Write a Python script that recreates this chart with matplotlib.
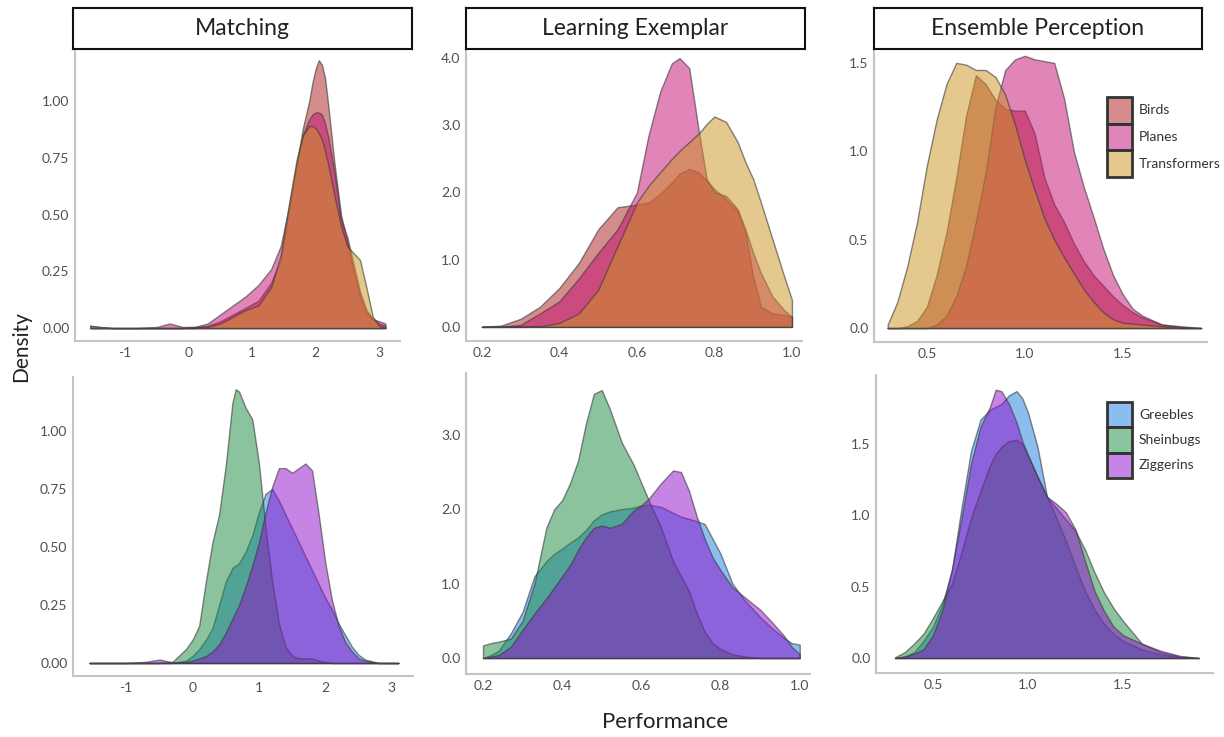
import matplotlib
matplotlib.use("Agg")
import matplotlib.pyplot as plt
from matplotlib.colors import to_rgba
from matplotlib.patches import Rectangle

plt.rcParams['font.family'] = ['Lato', 'DejaVu Sans']

# ---------------- data ----------------
column_titles = ["Matching", "Learning Exemplar", "Ensemble Perception"]
top_labels = ["Birds", "Planes", "Transformers"]
bottom_labels = ["Greebles", "Sheinbugs", "Ziggerins"]
top_colors = ["#ad1b1b", "#c50b71", "#cb931d"]
bottom_colors = ["#197de1", "#198941", "#8f0bcb"]

# Matching, top row
match_top_x = [-1.55, -1.4, -1.2, -0.8, -0.5, -0.3, -0.1, 0.1, 0.3, 0.5, 0.7, 0.9, 1.1, 1.3, 1.45,
               1.6, 1.7, 1.8, 1.9, 1.95, 2.0, 2.05, 2.1, 2.15, 2.2, 2.3, 2.4, 2.5, 2.6, 2.7, 2.8, 2.9, 3.0, 3.1]
match_birds = [0.01, 0.005, 0, 0, 0, 0, 0, 0.005, 0.01, 0.03, 0.06, 0.09, 0.12, 0.2, 0.3,
               0.55, 0.72, 0.88, 1.0, 1.08, 1.14, 1.18, 1.16, 1.1, 0.98, 0.72, 0.5, 0.38, 0.25, 0.14, 0.07, 0.04, 0.02, 0.01]
match_planes = [0, 0, 0, 0, 0.005, 0.02, 0.005, 0.005, 0.02, 0.06, 0.1, 0.14, 0.19, 0.26, 0.36,
                0.56, 0.72, 0.85, 0.92, 0.94, 0.95, 0.95, 0.94, 0.9, 0.84, 0.68, 0.48, 0.4, 0.28, 0.16, 0.08, 0.04, 0.03, 0.02]
match_transformers = [0.01, 0.005, 0, 0, 0, 0, 0, 0, 0.005, 0.02, 0.05, 0.08, 0.1, 0.18, 0.32,
                      0.58, 0.74, 0.85, 0.89, 0.89, 0.88, 0.86, 0.83, 0.78, 0.72, 0.58, 0.45, 0.36, 0.33, 0.3, 0.18, 0.05, 0.01, 0]

# Learning Exemplar, top row
learn_top_x = [0.2, 0.25, 0.3, 0.35, 0.4, 0.45, 0.5, 0.55, 0.6, 0.63, 0.66, 0.69, 0.71, 0.735, 0.76,
               0.78, 0.8, 0.83, 0.86, 0.88, 0.9, 0.92, 0.95, 0.98, 1.0]
learn_birds = [0, 0.02, 0.12, 0.3, 0.58, 0.95, 1.45, 1.78, 1.82, 1.85, 1.98, 2.15, 2.28, 2.35, 2.3,
               2.18, 2.05, 1.9, 1.72, 1.4, 0.75, 0.3, 0.2, 0.18, 0.15]
learn_planes = [0, 0, 0.03, 0.2, 0.38, 0.72, 1.1, 1.45, 2.0, 2.85, 3.5, 3.92, 4.0, 3.85, 2.9,
                2.2, 2.0, 1.95, 1.75, 1.45, 1.1, 0.8, 0.45, 0.25, 0.15]
learn_transformers = [0, 0, 0, 0.01, 0.06, 0.2, 0.55, 1.2, 1.85, 2.1, 2.3, 2.5, 2.62, 2.75, 2.88,
                      3.02, 3.13, 3.05, 2.75, 2.45, 2.2, 1.85, 1.3, 0.75, 0.4]

# Ensemble Perception, top row
ens_top_x = [0.3, 0.35, 0.4, 0.45, 0.5, 0.55, 0.6, 0.65, 0.7, 0.75, 0.8, 0.85, 0.9, 0.95, 1.0,
             1.05, 1.1, 1.15, 1.2, 1.25, 1.3, 1.35, 1.4, 1.45, 1.5, 1.55, 1.6, 1.7, 1.8, 1.9]
ens_birds = [0, 0, 0.01, 0.04, 0.12, 0.3, 0.54, 0.85, 1.2, 1.43, 1.38, 1.29, 1.24, 1.23, 1.23,
             1.1, 0.85, 0.7, 0.6, 0.48, 0.38, 0.3, 0.24, 0.18, 0.13, 0.09, 0.06, 0.02, 0.01, 0]
ens_planes = [0, 0, 0, 0, 0, 0.02, 0.07, 0.18, 0.35, 0.6, 0.88, 1.25, 1.46, 1.52, 1.54,
              1.52, 1.51, 1.5, 1.3, 1.0, 0.8, 0.63, 0.45, 0.3, 0.19, 0.11, 0.07, 0.02, 0.005, 0]
ens_transformers = [0.02, 0.15, 0.35, 0.6, 0.92, 1.18, 1.38, 1.5, 1.49, 1.46, 1.46, 1.42, 1.32, 1.15, 0.95,
                    0.78, 0.62, 0.5, 0.4, 0.31, 0.22, 0.15, 0.09, 0.05, 0.03, 0.025, 0.02, 0.01, 0, 0]

# Matching, bottom row
match_bot_x = [-1.55, -1.0, -0.7, -0.5, -0.3, -0.1, 0.0, 0.1, 0.2, 0.3, 0.4, 0.5, 0.6, 0.65, 0.7, 0.8,
               0.9, 1.0, 1.1, 1.2, 1.3, 1.4, 1.5, 1.6, 1.7, 1.8, 1.9, 2.0, 2.1, 2.2, 2.3, 2.4, 2.5, 2.6, 2.8, 3.1]
match_greebles = [0, 0, 0, 0, 0, 0.01, 0.03, 0.06, 0.1, 0.15, 0.25, 0.35, 0.41, 0.42, 0.43, 0.48,
                  0.55, 0.65, 0.73, 0.75, 0.7, 0.64, 0.58, 0.52, 0.46, 0.4, 0.34, 0.28, 0.23, 0.17, 0.12, 0.07, 0.035, 0.015, 0, 0]
match_sheinbugs = [0, 0, 0, 0, 0.005, 0.06, 0.1, 0.16, 0.35, 0.52, 0.64, 0.85, 1.12, 1.18, 1.17, 1.1,
                   1.05, 0.86, 0.58, 0.35, 0.17, 0.07, 0.03, 0.02, 0.02, 0.02, 0.01, 0.005, 0, 0, 0, 0, 0, 0, 0, 0]
match_ziggerins = [0, 0, 0.005, 0.015, 0.003, 0.005, 0.01, 0.02, 0.03, 0.05, 0.08, 0.13, 0.19, 0.22, 0.25, 0.33,
                   0.42, 0.52, 0.65, 0.76, 0.84, 0.84, 0.82, 0.84, 0.86, 0.83, 0.64, 0.43, 0.27, 0.16, 0.09, 0.05, 0.02, 0.01, 0, 0]

# Learning Exemplar, bottom row
learn_bot_x = [0.2, 0.22, 0.24, 0.27, 0.3, 0.33, 0.36, 0.38, 0.4, 0.42, 0.44, 0.46, 0.48, 0.5, 0.52, 0.55, 0.58,
               0.6, 0.62, 0.65, 0.68, 0.7, 0.72, 0.74, 0.76, 0.78, 0.8, 0.83, 0.86, 0.9, 0.93, 0.96, 0.98, 1.0]
learn_greebles = [0, 0.04, 0.1, 0.33, 0.62, 1.1, 1.3, 1.4, 1.47, 1.55, 1.62, 1.72, 1.85, 1.93, 1.97, 2.0, 2.02,
                  2.05, 2.06, 2.03, 1.95, 1.9, 1.87, 1.84, 1.8, 1.6, 1.4, 1.0, 0.78, 0.55, 0.4, 0.27, 0.2, 0.18]
learn_sheinbugs = [0.17, 0.2, 0.22, 0.26, 0.5, 1.0, 1.75, 2.0, 2.12, 2.35, 2.65, 3.15, 3.55, 3.6, 3.35, 2.9, 2.6,
                   2.35, 2.1, 1.75, 1.3, 1.1, 0.9, 0.6, 0.35, 0.2, 0.12, 0.05, 0.02, 0, 0, 0, 0, 0]
learn_ziggerins = [0, 0.02, 0.04, 0.15, 0.38, 0.6, 0.8, 0.95, 1.1, 1.25, 1.45, 1.62, 1.75, 1.78, 1.75, 1.8, 1.98,
                   2.05, 2.15, 2.35, 2.52, 2.5, 2.25, 1.9, 1.6, 1.35, 1.18, 0.95, 0.82, 0.65, 0.48, 0.3, 0.15, 0.05]

# Ensemble Perception, bottom row
ens_bot_x = [0.3, 0.35, 0.4, 0.45, 0.5, 0.55, 0.6, 0.65, 0.7, 0.75, 0.8, 0.83, 0.86, 0.9, 0.94, 0.97, 1.0,
             1.05, 1.1, 1.15, 1.2, 1.25, 1.3, 1.35, 1.4, 1.45, 1.5, 1.6, 1.7, 1.8, 1.9]
ens_greebles = [0, 0.01, 0.04, 0.12, 0.22, 0.38, 0.62, 1.05, 1.45, 1.67, 1.74, 1.76, 1.78, 1.84, 1.87, 1.82, 1.72,
                1.48, 1.13, 0.98, 0.82, 0.64, 0.47, 0.34, 0.24, 0.17, 0.12, 0.06, 0.025, 0.005, 0]
ens_sheinbugs = [0.005, 0.04, 0.1, 0.17, 0.28, 0.4, 0.52, 0.74, 0.98, 1.17, 1.35, 1.43, 1.48, 1.52, 1.53, 1.5, 1.42,
                 1.27, 1.13, 1.05, 0.97, 0.89, 0.76, 0.6, 0.46, 0.35, 0.26, 0.1, 0.04, 0.01, 0]
ens_ziggerins = [0, 0.01, 0.03, 0.06, 0.16, 0.34, 0.62, 0.98, 1.36, 1.62, 1.76, 1.88, 1.87, 1.78, 1.65, 1.52, 1.42,
                 1.27, 1.13, 1.08, 1.02, 0.9, 0.68, 0.47, 0.33, 0.22, 0.16, 0.1, 0.05, 0.015, 0]

# ---------------- layout ----------------
W, H = 1224, 737
fig = plt.figure(figsize=(W / 100, H / 100), dpi=100)


def rect(l, t, r, b):
    return [l / W, 1 - b / H, (r - l) / W, (b - t) / H]


panels = [
    dict(box=(75, 50, 400, 341), xlim=(-1.79, 3.33), ylim=(-0.057, 1.225), x=match_top_x,
         ys=[match_birds, match_planes, match_transformers], colors=top_colors,
         xt=[-1, 0, 1, 2, 3], xf="{:.0f}", yt=[0, 0.25, 0.5, 0.75, 1.0], yf="{:.2f}"),
    dict(box=(466, 50, 802, 341), xlim=(0.159, 1.026), ylim=(-0.21, 4.12), x=learn_top_x,
         ys=[learn_birds, learn_planes, learn_transformers], colors=top_colors,
         xt=[0.2, 0.4, 0.6, 0.8, 1.0], xf="{:.1f}", yt=[0, 1, 2, 3, 4], yf="{:.1f}"),
    dict(box=(874, 50, 1207, 342), xlim=(0.23, 1.93), ylim=(-0.079, 1.573), x=ens_top_x,
         ys=[ens_birds, ens_planes, ens_transformers], colors=top_colors,
         xt=[0.5, 1.0, 1.5], xf="{:.1f}", yt=[0, 0.5, 1.0, 1.5], yf="{:.1f}"),
    dict(box=(73, 377, 413, 676), xlim=(-1.80, 3.32), ylim=(-0.056, 1.233), x=match_bot_x,
         ys=[match_greebles, match_sheinbugs, match_ziggerins], colors=bottom_colors,
         xt=[-1, 0, 1, 2, 3], xf="{:.0f}", yt=[0, 0.25, 0.5, 0.75, 1.0], yf="{:.2f}"),
    dict(box=(466, 373, 810, 674), xlim=(0.157, 1.026), ylim=(-0.215, 3.83), x=learn_bot_x,
         ys=[learn_greebles, learn_sheinbugs, learn_ziggerins], colors=bottom_colors,
         xt=[0.2, 0.4, 0.6, 0.8, 1.0], xf="{:.1f}", yt=[0, 1, 2, 3], yf="{:.1f}"),
    dict(box=(876, 375, 1213, 673), xlim=(0.2, 1.974), ylim=(-0.105, 1.983), x=ens_bot_x,
         ys=[ens_greebles, ens_sheinbugs, ens_ziggerins], colors=bottom_colors,
         xt=[0.5, 1.0, 1.5], xf="{:.1f}", yt=[0, 0.5, 1.0, 1.5], yf="{:.1f}"),
]

edge = to_rgba("#3a3a3a", 0.6)
for p in panels:
    ax = fig.add_axes(rect(*p["box"]))
    for y, c in zip(p["ys"], p["colors"]):
        ax.fill_between(p["x"], y, 0, facecolor=to_rgba(c, 0.5), edgecolor=edge, linewidth=1.0)
    ax.set_xlim(*p["xlim"])
    ax.set_ylim(*p["ylim"])
    ax.set_xticks(p["xt"])
    ax.set_xticklabels([p["xf"].format(v) for v in p["xt"]])
    ax.set_yticks(p["yt"])
    ax.set_yticklabels([p["yf"].format(v) for v in p["yt"]])
    ax.tick_params(length=0, pad=4, labelsize=10, labelcolor="#505050")
    for s in ("top", "right"):
        ax.spines[s].set_visible(False)
    for s in ("left", "bottom"):
        ax.spines[s].set_color("#c4c4c4")
        ax.spines[s].set_linewidth(1.5)
    ax.patch.set_alpha(0)

# column header boxes
header_boxes = [(73, 8, 412, 49), (466, 8, 805, 49), (874, 8, 1202, 49)]
for (l, t, r, b), title in zip(header_boxes, column_titles):
    hax = fig.add_axes(rect(l, t, r, b))
    hax.set_xticks([])
    hax.set_yticks([])
    for s in hax.spines.values():
        s.set_color("#111111")
        s.set_linewidth(1.5)
    hax.text(0.5, 0.5, title, ha="center", va="center", fontsize=16.5, color="#222222",
             transform=hax.transAxes)


# legends: square patches stacked without gaps, labels to the right
def draw_legend(labels, colors, left, top, w, h):
    for i, (lab, c) in enumerate(zip(labels, colors)):
        y0 = top + i * h
        fig.patches.append(Rectangle((left / W, 1 - (y0 + h) / H), w / W, h / H,
                                     transform=fig.transFigure, facecolor=to_rgba(c, 0.5),
                                     edgecolor="#333333", linewidth=2.0))
        fig.text((left + w + 7) / W, 1 - (y0 + h / 2) / H, lab, ha="left", va="center",
                 fontsize=10, color="#333333")


draw_legend(top_labels, top_colors, 1107, 97, 25, 26.7)
draw_legend(bottom_labels, bottom_colors, 1107, 402, 25, 25.3)

fig.text(21 / W, 1 - 347 / H, "Density", rotation=90, ha="center", va="center",
         fontsize=15, color="#222222")
fig.text(665 / W, 1 - 722 / H, "Performance", ha="center", va="center",
         fontsize=16, color="#222222")

fig.savefig("out.png", dpi=100)
